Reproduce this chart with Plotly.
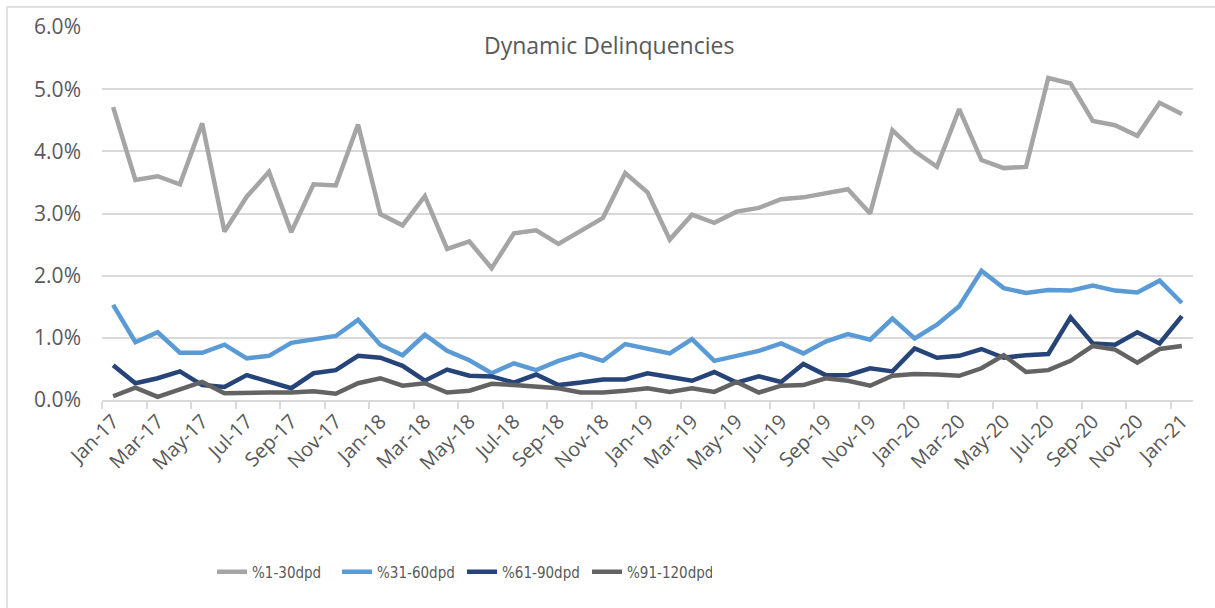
import plotly.graph_objects as go

months = ["Jan", "Feb", "Mar", "Apr", "May", "Jun", "Jul", "Aug", "Sep", "Oct", "Nov", "Dec"]
categories = [f"{m}-{y}" for y in ["17", "18", "19", "20"] for m in months] + ["Jan-21"]

dpd_1_30 = [4.71, 3.54, 3.60, 3.47, 4.45, 2.71, 3.27, 3.67, 2.70, 3.47, 3.45, 4.43,
            2.99, 2.81, 3.28, 2.43, 2.55, 2.12, 2.68, 2.73, 2.51, 2.72, 2.93, 3.65,
            3.34, 2.58, 2.98, 2.85, 3.03, 3.09, 3.23, 3.26, 3.33, 3.39, 3.00, 4.34,
            4.00, 3.75, 4.68, 3.86, 3.73, 3.75, 5.18, 5.09, 4.49, 4.42, 4.25, 4.78, 4.60]
dpd_31_60 = [1.53, 0.93, 1.09, 0.76, 0.76, 0.89, 0.67, 0.71, 0.92, 0.97, 1.03, 1.29,
             0.89, 0.72, 1.05, 0.79, 0.64, 0.43, 0.59, 0.48, 0.63, 0.74, 0.63, 0.90,
             0.83, 0.75, 0.98, 0.63, 0.71, 0.79, 0.91, 0.75, 0.94, 1.06, 0.97, 1.31,
             0.99, 1.21, 1.51, 2.08, 1.80, 1.72, 1.77, 1.76, 1.84, 1.76, 1.73, 1.92, 1.56]
dpd_61_90 = [0.56, 0.27, 0.35, 0.46, 0.24, 0.21, 0.40, 0.29, 0.19, 0.43, 0.48, 0.71,
             0.68, 0.55, 0.31, 0.49, 0.39, 0.38, 0.28, 0.41, 0.24, 0.28, 0.33, 0.33,
             0.43, 0.37, 0.31, 0.45, 0.28, 0.38, 0.29, 0.58, 0.40, 0.40, 0.51, 0.46,
             0.83, 0.68, 0.71, 0.82, 0.68, 0.72, 0.74, 1.33, 0.91, 0.89, 1.09, 0.91, 1.35]
dpd_91_120 = [0.06, 0.20, 0.05, 0.17, 0.29, 0.11, 0.12, 0.12, 0.12, 0.14, 0.10, 0.27,
              0.35, 0.23, 0.27, 0.12, 0.15, 0.26, 0.24, 0.21, 0.19, 0.12, 0.12, 0.15,
              0.19, 0.13, 0.19, 0.13, 0.29, 0.12, 0.23, 0.24, 0.35, 0.31, 0.23, 0.39,
              0.42, 0.41, 0.39, 0.51, 0.72, 0.45, 0.48, 0.63, 0.87, 0.81, 0.60, 0.82, 0.87]

series_names = ["%1-30dpd", "%31-60dpd", "%61-90dpd", "%91-120dpd"]
series_values = [dpd_1_30, dpd_31_60, dpd_61_90, dpd_91_120]
series_colors = ["#A5A5A5", "#5B9BD5", "#264478", "#636363"]

y_ticks = [0, 1, 2, 3, 4, 5, 6]
y_ticktext = [f"{v:.1f}%" for v in y_ticks]

x_idx = list(range(len(categories)))
x_tickvals = x_idx[::2]
x_ticktext = categories[::2]
x_minor = [i - 0.5 for i in x_idx[::2]]

fig = go.Figure()
for name, vals, col in zip(series_names, series_values, series_colors):
    fig.add_trace(go.Scatter(x=x_idx, y=vals, mode="lines", name=name,
                             line=dict(color=col, width=4.5)))

text_col = "#595959"
fig.update_layout(
    width=1215, height=608,
    margin=dict(l=102, r=22, t=27, b=208),
    paper_bgcolor="white", plot_bgcolor="white",
    font=dict(family="Open Sans, sans-serif", color=text_col),
    showlegend=True,
    legend=dict(orientation="h", x=0.33, xanchor="center", y=-0.461, yanchor="middle",
                font=dict(family="Liberation Sans Narrow, DejaVu Sans Condensed, Arial Narrow, sans-serif",
                          size=15, color=text_col),
                entrywidth=80, entrywidthmode="pixels", itemwidth=30),
    annotations=[dict(text="Dynamic Delinquencies", xref="paper", yref="paper",
                      x=0.465, y=0.952, xanchor="center", yanchor="middle", showarrow=False,
                      font=dict(family="Open Sans, sans-serif", size=23, color=text_col))],
    shapes=[dict(type="rect", xref="paper", yref="paper",
                 x0=(7 - 102) / 1091, x1=1.2, y0=-1.0, y1=(400 - 7) / 373,
                 line=dict(color="#D9D9D9", width=1.5), fillcolor="rgba(0,0,0,0)", layer="below")],
)
fig.update_xaxes(range=[-0.5, len(categories) - 0.5], tickmode="array", tickvals=x_tickvals,
                 ticktext=x_ticktext, tickangle=-45, ticks="", showgrid=False,
                 showline=True, linecolor="#D9D9D9", linewidth=1.5,
                 tickfont=dict(size=20, color=text_col),
                 minor=dict(tickmode="array", tickvals=x_minor, ticks="outside", ticklen=7,
                            tickcolor="#D9D9D9", tickwidth=1.5, showgrid=False),
                 zeroline=False)
fig.update_yaxes(range=[0, 6], tickmode="array", tickvals=y_ticks, ticktext=y_ticktext,
                 showgrid=True, gridcolor="#D9D9D9", gridwidth=1.5, zeroline=False,
                 showline=False, ticks="", ticklabelstandoff=20,
                 tickfont=dict(size=21, color=text_col))

fig.write_html("out.html", config={"displayModeBar": False},
               post_script="document.body.style.margin='0px';")
